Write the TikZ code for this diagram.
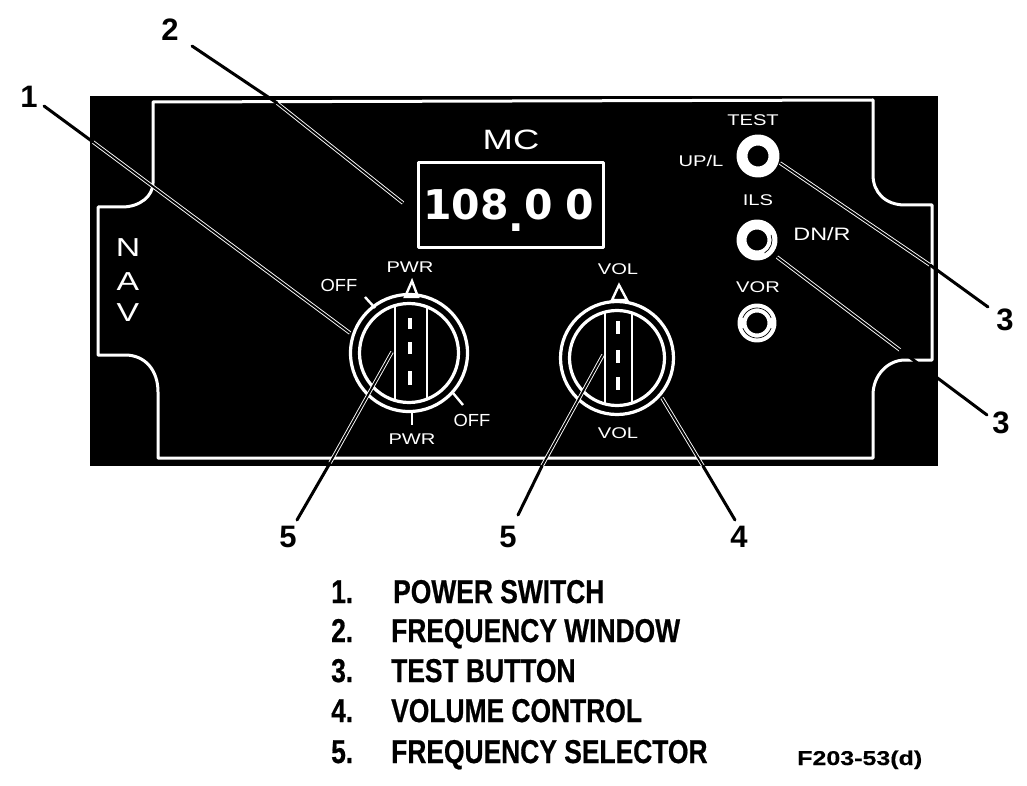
\documentclass[tikz,border=0pt]{standalone}
\usepackage{fontspec}
\setmainfont{Liberation Sans}
\newfontfamily\legendfont[FakeStretch=0.8,FakeBold=0.6]{Liberation Sans}
\newfontfamily\figfont[FakeStretch=1.25,FakeBold=0.3]{Liberation Sans}
\newfontfamily\smallfont[FakeStretch=1.3]{Liberation Sans}
\newfontfamily\offfont[FakeStretch=1.05]{Liberation Sans}
\newfontfamily\digitfont{DejaVu Sans Bold}
\begin{document}
\begin{tikzpicture}[x=1pt,y=-1pt,line join=round,
  inlabel/.style={text=white,inner sep=0pt,font=\smallfont\fontsize{15.5}{15.5}\selectfont},
  offlabel/.style={text=white,inner sep=0pt,font=\offfont\fontsize{17.5}{17.5}\selectfont},
  navlabel/.style={text=white,inner sep=0pt,font=\smallfont\fontsize{26}{26}\selectfont},
  callout/.style={text=black,inner sep=0pt,font=\bfseries\fontsize{31}{31}\selectfont},
  legendnum/.style={anchor=base west,inner sep=0pt,font=\legendfont\bfseries\fontsize{33}{33}\selectfont},
  legendtxt/.style={anchor=base west,inner sep=0pt,font=\legendfont\bfseries\fontsize{33}{33}\selectfont},
  outline/.style={draw=white,line width=3pt},
  thinwhite/.style={draw=white,line width=2.4pt},
  leaderout/.style={draw=black,line width=3pt,line cap=round},
  leaderin/.style={draw=white,line width=0.9pt,double=black,double distance=1.8pt},
  knobring/.style={circle,draw=white,line width=3.2pt,minimum size=#1,inner sep=0pt},
  btnring/.style={circle,draw=white,fill=black,inner sep=0pt}]
\useasboundingbox (0,0) rectangle (1027,786);
\fill[white] (0,0) rectangle (1027,786);
\fill[black] (90,96) rectangle (938,466);
% panel outline
\draw[outline] (153,102) -- (153,183) .. controls (153,196) and (140,207) .. (122,207) -- (98,207)
  -- (98,355) -- (125,355) .. controls (145,355) and (158,370) .. (158,392) -- (158,458)
  -- (873,458) -- (873,395) .. controls (873,375) and (888,360) .. (905,360) -- (932,360)
  -- (932,205) -- (905,205) .. controls (885,205) and (873,192) .. (873,175) -- (873,100) -- cycle;
% window
\node[draw=white,line width=3pt,minimum width=185pt,minimum height=85pt,inner sep=0pt] (window) at (510.5,205.5) {};
\node[text=white,inner sep=0pt,anchor=base west,font=\digitfont\fontsize{41}{41}\selectfont] (freq) at (423,220) {108\raisebox{-12pt}{.}0\kern13pt0};
\node[text=white,inner sep=0pt,font=\smallfont\fontsize{28}{28}\selectfont] (mc) at (511,140) {MC};
% NAV
\node[navlabel] (nava) at (128,248) {N};
\node[navlabel] (navb) at (128,282) {A};
\node[navlabel] (navc) at (128,313) {V};
% knob 1
\node[knobring=117pt] (knobA) at (409,353) {};
\node[knobring=99pt] (knobAi) at (409,353) {};
\begin{scope}
  \clip (409,353) circle (50);
  \draw[thinwhite] (395,290) -- (395,410);
  \draw[thinwhite] (427,290) -- (427,410);
\end{scope}
\draw[draw=white,line width=4pt] (410,318) -- (410,329) (410,342) -- (410,354) (410,371) -- (410,385);
\draw[thinwhite,line join=miter] (405,297) -- (412,281) -- (418,297) -- cycle;
\draw[thinwhite] (365,297) -- (375,308);
\draw[thinwhite] (412,412) -- (412,425);
\draw[thinwhite] (453,393) -- (463,405);
\node[inlabel] (pwrt) at (410,267) {PWR};
\node[offlabel] (offa) at (339,285) {OFF};
\node[inlabel] (pwrb) at (412,439) {PWR};
\node[offlabel] (offb) at (472,420) {OFF};
% knob 2
\node[knobring=113pt] (knobB) at (617,358) {};
\node[knobring=95pt] (knobBi) at (617,358) {};
\begin{scope}
  \clip (617,358) circle (48);
  \draw[thinwhite] (605,300) -- (605,420);
  \draw[thinwhite] (632,300) -- (632,420);
\end{scope}
\draw[draw=white,line width=4pt] (618,321) -- (618,334) (618,350) -- (618,363) (618,377) -- (618,390);
\draw[thinwhite,line join=miter] (612,300) -- (619,285) -- (627,300) -- cycle;
\node[inlabel] (volt) at (618,269) {VOL};
\node[inlabel] (volb) at (618,433) {VOL};
% buttons
\node[btnring,line width=11pt,minimum size=32pt] (btnA) at (758,156) {};
\node[btnring,line width=10pt,minimum size=31pt] (btnB) at (757,240) {};
\node[btnring,line width=9pt,minimum size=30pt] (btnC) at (757,323) {};
\draw[black,line width=0.7pt] (btnB.center) ++(-20:15) arc (-20:60:15);
\draw[black,line width=0.7pt] (btnC.center) ++(20:15) arc (20:160:15) (btnC.center) ++(200:15) arc (200:340:15);
\node[inlabel] (test) at (753,120) {TEST};
\node[inlabel] (upl) at (701,161) {UP/L};
\node[inlabel] (ils) at (758,200) {ILS};
\node[inlabel,font=\smallfont\fontsize{18}{18}\selectfont] (dnr) at (822,234) {DN/R};
\node[inlabel] (vor) at (758,287) {VOR};
% callouts
\node[callout] (c1) at (29,97) {1};
\node[callout] (c2) at (170,30) {2};
\node[callout] (c3a) at (1005,320) {3};
\node[callout] (c3b) at (1001,423) {3};
\node[callout] (c4) at (739,537) {4};
\node[callout] (c5a) at (288,537) {5};
\node[callout] (c5b) at (508,537) {5};
% leader waypoints
\coordinate (l1s) at (44,106); \coordinate (l1m) at (93,142); \coordinate (l1e) at (350,333);
\coordinate (l2s) at (192,46); \coordinate (l2m) at (277,103); \coordinate (l2e) at (403,203);
\coordinate (l3as) at (988,307); \coordinate (l3am) at (930,265); \coordinate (l3ae) at (780,163);
\coordinate (l3bs) at (987,415); \coordinate (l3bm) at (900,350); \coordinate (l3be) at (777,257);
\coordinate (l4s) at (735,520); \coordinate (l4m) at (703,466); \coordinate (l4e) at (662,398);
\coordinate (l5as) at (297,520); \coordinate (l5am) at (330,463); \coordinate (l5ae) at (392,352);
\coordinate (l5bs) at (518,515); \coordinate (l5bm) at (542,466); \coordinate (l5be) at (603,355);
\foreach \n in {l1,l2,l3a,l3b,l4,l5a,l5b}{
  \draw[leaderin] (\n m) -- (\n e);
  \draw[leaderout] (\n s) -- (\n m);
}
% legend
\node[legendnum] (n1) at (331,603) {1.};
\node[legendnum] (n2) at (331,642) {2.};
\node[legendnum] (n3) at (331,682) {3.};
\node[legendnum] (n4) at (331,722) {4.};
\node[legendnum] (n5) at (331,763) {5.};
\node[legendtxt] (t1) at (393,603) {POWER SWITCH};
\node[legendtxt] (t2) at (391,642) {FREQUENCY WINDOW};
\node[legendtxt] (t3) at (391,682) {TEST BUTTON};
\node[legendtxt] (t4) at (391,722) {VOLUME CONTROL};
\node[legendtxt] (t5) at (391,763) {FREQUENCY SELECTOR};
\node[anchor=base west,inner sep=0pt,font=\figfont\bfseries\fontsize{20}{20}\selectfont] (fig) at (797,765) {F203-53(d)};
\end{tikzpicture}
\end{document}
